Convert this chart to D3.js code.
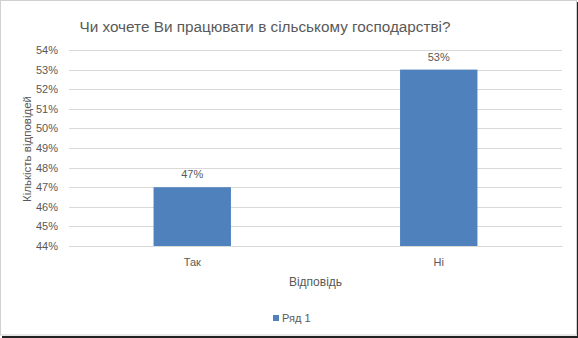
<!DOCTYPE html>
<html>
<head>
<meta charset="utf-8">
<script src="https://cdn.jsdelivr.net/npm/d3@7"></script>
<style>
  body { margin: 0; background: #fff; }
  text { font-family: "Liberation Sans", "DejaVu Sans", sans-serif; fill: #595959; }
</style>
</head>
<body>
<script>
var categories = ["Так", "Ні"];
var values = [0.47, 0.53];
var yTicks = [0.44, 0.45, 0.46, 0.47, 0.48, 0.49, 0.50, 0.51, 0.52, 0.53, 0.54];
var seriesName = "Ряд 1";
var chartTitle = "Чи хочете Ви працювати в сільському господарстві?";
var xTitle = "Відповідь";
var yTitle = "Кількість відповідей";

var width = 578, height = 338;
var margin = {top: 50, right: 16, bottom: 92, left: 69};

var svg = d3.select("body").append("svg")
  .attr("width", width)
  .attr("height", height);

// frame + shadow like the pasted excel picture
svg.append("rect")
  .attr("x", 0.5).attr("y", 0.5)
  .attr("width", 576).attr("height", 334.5)
  .style("fill", "#fff")
  .style("stroke", "#d0d0d0");
svg.append("line")
  .attr("x1", 577.5).attr("x2", 577.5).attr("y1", 2).attr("y2", 338)
  .style("stroke", "#222");
svg.append("rect")
  .attr("x", 2).attr("y", 336).attr("width", 576).attr("height", 2)
  .style("fill", "#222");

var x = d3.scaleBand()
  .domain(categories)
  .range([margin.left, width - margin.right])
  .paddingInner(0.686)
  .paddingOuter(0.343);

var y = d3.scaleLinear()
  .domain([0.44, 0.54])
  .range([height - margin.bottom, margin.top]);

var pct = d3.format(".0%");

// gridlines
svg.append("g")
  .selectAll("line")
  .data(yTicks)
  .enter().append("line")
  .attr("x1", margin.left)
  .attr("x2", width - margin.right)
  .attr("y1", function(d) { return Math.round(y(d)) + 0.5; })
  .attr("y2", function(d) { return Math.round(y(d)) + 0.5; })
  .style("stroke", "#d9d9d9")
  .style("stroke-width", 1);

// y axis labels
var yAxis = d3.axisLeft(y)
  .tickValues(yTicks)
  .tickFormat(pct)
  .tickSize(0)
  .tickPadding(11);

var gy = svg.append("g")
  .attr("transform", "translate(" + margin.left + ",0)")
  .call(yAxis);
gy.select(".domain").remove();
gy.selectAll("text")
  .style("font-size", "11px")
  .style("fill", "#595959");

// bars
svg.append("g")
  .selectAll("rect")
  .data(values)
  .enter().append("rect")
  .attr("x", function(d, i) { return x(categories[i]); })
  .attr("y", function(d) { return y(d); })
  .attr("width", x.bandwidth())
  .attr("height", function(d) { return y(0.44) - y(d); })
  .style("fill", "#4f81bd");

// data labels
svg.append("g")
  .selectAll("text")
  .data(values)
  .enter().append("text")
  .attr("x", function(d, i) { return x(categories[i]) + x.bandwidth() / 2; })
  .attr("y", function(d) { return y(d) - 9; })
  .attr("text-anchor", "middle")
  .style("font-size", "11px")
  .text(function(d) { return pct(d); });

// x axis
var xAxis = d3.axisBottom(x).tickSize(0).tickPadding(12);
var gx = svg.append("g")
  .attr("transform", "translate(0," + (height - margin.bottom) + ")")
  .call(xAxis);
gx.select(".domain")
  .style("stroke", "#d9d9d9");
gx.selectAll("text")
  .style("font-size", "11px")
  .style("fill", "#595959");

// titles
svg.append("text")
  .attr("x", 265)
  .attr("y", 32)
  .attr("text-anchor", "middle")
  .style("font-size", "15.3px")
  .text(chartTitle);

svg.append("text")
  .attr("x", (margin.left + width - margin.right) / 2)
  .attr("y", 286)
  .attr("text-anchor", "middle")
  .style("font-size", "12px")
  .text(xTitle);

svg.append("text")
  .attr("transform", "translate(31,149) rotate(-90)")
  .attr("text-anchor", "middle")
  .style("font-size", "11.5px")
  .text(yTitle);

// legend
var legend = svg.append("g")
  .attr("transform", "translate(273,315)");
legend.append("rect")
  .attr("width", 6).attr("height", 6)
  .style("fill", "#4f81bd");
legend.append("text")
  .attr("x", 9).attr("y", 6.5)
  .style("font-size", "11px")
  .text(seriesName);
</script>
</body>
</html>
